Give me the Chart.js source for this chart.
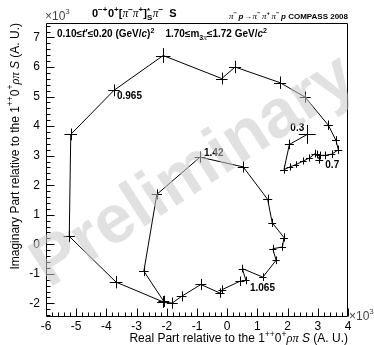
<!DOCTYPE html>
<html>
<head>
<meta charset="utf-8">
<script src="https://cdn.jsdelivr.net/npm/chart.js@4/dist/chart.umd.min.js"></script>
<style>
  html, body { margin: 0; padding: 0; background: #fff; }
  canvas { display: block; }
</style>
</head>
<body>
<canvas id="argand" width="374" height="345"></canvas>
<script>
// Argand path of the 0-+0+ [pi pi]_S pi S wave, relative to 1++0+ rho pi S (units of 10^3)
const realPart = [2.65, 2.06, 1.88, 2.08, 2.28, 2.52, 2.72, 2.91, 2.96, 3.05,
                  3.07, 3.24, 3.46, 3.68, 3.60, 3.35, 2.58, 1.75, 0.26, -0.18,
                  -2.12, -3.75, -5.18, -5.23, -3.68, -2.12, -1.82, -1.51, -0.87, -0.24,
                  -0.16, 0.42, 0.62, 0.50, 1.18, 1.62, 1.51, 1.83, 1.88, 1.49,
                  1.34, 0.53, -0.90, -2.33, -2.76, -2.10];
const imagPart = [3.72, 3.38, 2.53, 2.62, 2.70, 2.82, 2.92, 3.07, 3.04, 2.87,
                  3.01, 3.01, 3.05, 3.20, 3.52, 4.03, 4.98, 5.47, 6.00, 5.61,
                  6.39, 5.21, 3.72, 0.27, -1.28, -1.95, -1.99, -1.76, -1.36, -1.65,
                  -1.53, -1.25, -1.22, -0.82, -1.11, -0.54, -0.15, -0.09, 0.23, 0.73,
                  1.52, 2.62, 2.95, 1.69, -0.91, -1.93];
const realErr = [0.28, 0.15, 0.13, 0.11, 0.10, 0.11, 0.11, 0.12, 0.12, 0.13,
                 0.12, 0.12, 0.12, 0.13, 0.13, 0.15, 0.18, 0.20, 0.20, 0.19,
                 0.24, 0.19, 0.21, 0.19, 0.21, 0.20, 0.18, 0.16, 0.18, 0.15,
                 0.13, 0.15, 0.12, 0.12, 0.12, 0.12, 0.12, 0.12, 0.13, 0.13,
                 0.15, 0.18, 0.18, 0.17, 0.16, 0.18];
const imagErr = [0.32, 0.16, 0.14, 0.12, 0.11, 0.12, 0.12, 0.13, 0.13, 0.14,
                 0.13, 0.13, 0.13, 0.14, 0.14, 0.16, 0.19, 0.21, 0.21, 0.20,
                 0.25, 0.20, 0.20, 0.20, 0.21, 0.20, 0.19, 0.17, 0.19, 0.16,
                 0.14, 0.16, 0.13, 0.13, 0.13, 0.13, 0.13, 0.13, 0.14, 0.14,
                 0.16, 0.19, 0.19, 0.17, 0.17, 0.19];
// 3-pi mass values written next to selected points
const massLabelIndex = [0, 9, 21, 32, 42];
const massLabelText = ['0.3', '0.7', '0.965', '1.065', '1.42'];

const xTicks = [-6, -5, -4, -3, -2, -1, 0, 1, 2, 3, 4];
const yTicks = [-2, -1, 0, 1, 2, 3, 4, 5, 6, 7];
const xRange = [-6, 4];
const yRange = [-2.46, 7.49];

const SANS = '"Liberation Sans", Arial, Helvetica, sans-serif';
const SERIF = '"Liberation Serif", "Times New Roman", serif';

// ---------- rich text helpers (super/subscripts, greek letters) ----------
function segWidth(ctx, s) {
  ctx.font = s.f;
  let w = ctx.measureText(s.t).width;
  if (s.t2 !== undefined) {
    ctx.font = s.f2;
    w = Math.max(w, ctx.measureText(s.t2).width);
  }
  return w + (s.gap || 0);
}
function richWidth(ctx, segs) {
  return segs.reduce((a, s) => a + segWidth(ctx, s), 0);
}
function drawRich(ctx, segs, x, y, align) {
  const w = richWidth(ctx, segs);
  let cx = align === 'right' ? x - w : align === 'center' ? x - w / 2 : x;
  ctx.textAlign = 'left';
  ctx.textBaseline = 'alphabetic';
  for (const s of segs) {
    ctx.fillStyle = s.c || '#000';
    ctx.font = s.f;
    ctx.fillText(s.t, cx, y + (s.dy || 0));
    if (s.t2 !== undefined) {
      ctx.font = s.f2;
      ctx.fillText(s.t2, cx, y + (s.dy2 || 0));
    }
    cx += segWidth(ctx, s);
  }
}

// ---------- axis frame with inward ticks ----------
const framePlugin = {
  id: 'frame',
  beforeDatasetsDraw(chart) {
    const { ctx, chartArea: a, scales: { x, y } } = chart;
    ctx.save();
    ctx.strokeStyle = '#000';
    ctx.lineWidth = 1;
    ctx.beginPath();
    ctx.rect(Math.round(a.left) + 0.5, Math.round(a.top) + 0.5,
             Math.round(a.right - a.left) - 1, Math.round(a.bottom - a.top) - 1);
    ctx.stroke();
    ctx.beginPath();
    const bottom = Math.round(a.bottom) - 0.5;
    for (let k = xRange[0] * 5; k <= xRange[1] * 5; k++) {
      const px = Math.round(x.getPixelForValue(k / 5)) + 0.5;
      const len = k % 5 === 0 ? 8 : 4;
      ctx.moveTo(px, bottom);
      ctx.lineTo(px, bottom - len);
    }
    const left = Math.round(a.left) + 0.5;
    for (let k = Math.ceil(yRange[0] * 5); k <= Math.floor(yRange[1] * 5); k++) {
      const py = Math.round(y.getPixelForValue(k / 5)) + 0.5;
      const len = k % 5 === 0 ? 8 : 4;
      ctx.moveTo(left, py);
      ctx.lineTo(left + len, py);
    }
    ctx.stroke();
    ctx.restore();
  }
};

// ---------- error crosses and mass labels ----------
const errorPlugin = {
  id: 'errors',
  afterDatasetsDraw(chart) {
    const { ctx, scales: { x, y } } = chart;
    ctx.save();
    ctx.strokeStyle = '#000';
    ctx.lineWidth = 1;
    ctx.beginPath();
    realPart.forEach((re, i) => {
      const im = imagPart[i];
      const px = Math.round(x.getPixelForValue(re)) + 0.5;
      const py = Math.round(y.getPixelForValue(im)) + 0.5;
      ctx.moveTo(x.getPixelForValue(re - realErr[i]), py);
      ctx.lineTo(x.getPixelForValue(re + realErr[i]), py);
      ctx.moveTo(px, y.getPixelForValue(im - imagErr[i]));
      ctx.lineTo(px, y.getPixelForValue(im + imagErr[i]));
    });
    ctx.stroke();

    const offsets = [[-3, -3, 'right'], [6, 8, 'left'], [3, 8.5, 'left'],
                     [4, 11, 'left'], [4, -1.5, 'left']];
    ctx.font = 'bold 10px ' + SANS;
    ctx.fillStyle = '#000';
    ctx.textBaseline = 'alphabetic';
    massLabelIndex.forEach((idx, k) => {
      const px = x.getPixelForValue(realPart[idx]);
      const py = y.getPixelForValue(imagPart[idx]);
      const [dx, dy, al] = offsets[k];
      ctx.textAlign = al;
      ctx.fillText(massLabelText[k], px + dx, py + dy);
    });
    ctx.restore();
  }
};

// ---------- titles, axis titles, exponent markers, watermark ----------
const textPlugin = {
  id: 'texts',
  afterDraw(chart) {
    const { ctx, chartArea: a } = chart;
    ctx.save();

    // exponent markers
    const e12 = '12px ' + SANS, e8 = '8px ' + SANS;
    drawRich(ctx, [{ t: '\u00d710', f: e12, c: '#444' }, { t: '3', f: e8, dy: -6, c: '#444' }], a.left - 1, 20, 'left');
    drawRich(ctx, [{ t: '\u00d710', f: e12, c: '#444' }, { t: '3', f: e8, dy: -6, c: '#444' }], a.right + 1, 320, 'left');

    // wave title
    const b11 = 'bold 11px ' + SANS, s8 = 'bold 8px ' + SANS, pi11 = 'italic 11.5px ' + SERIF;
    drawRich(ctx, [
      { t: '0', f: b11 }, { t: '\u2212+', f: s8, dy: -5, gap: 0.5 },
      { t: '0', f: b11 }, { t: '+', f: s8, dy: -5 },
      { t: '[', f: b11 }, { t: '\u03c0', f: pi11 }, { t: '\u2212', f: s8, dy: -5 },
      { t: '\u03c0', f: pi11 }, { t: '+', f: s8, dy: -5 },
      { t: ']', f: b11 }, { t: '*', f: s8, dy: -4, t2: 'S', f2: s8, dy2: 3, gap: 0.5 },
      { t: '\u03c0', f: pi11 }, { t: '\u2212', f: s8, dy: -5 },
      { t: '  S', f: b11 }
    ], 92, 16.5, 'left');

    // reaction label
    const b8 = 'bold 8px ' + SANS, s6 = 'bold 6px ' + SANS, pi8 = 'italic 9px ' + SERIF, p8 = 'bold italic 8px ' + SANS;
    drawRich(ctx, [
      { t: '\u03c0', f: pi8 }, { t: '\u2212', f: s6, dy: -3.5, gap: 1.5 },
      { t: 'p', f: p8, gap: 0.5 }, { t: '\u2192', f: b8, gap: 0.5 },
      { t: '\u03c0', f: pi8 }, { t: '\u2212', f: s6, dy: -3.5, gap: 1.5 },
      { t: '\u03c0', f: pi8 }, { t: '+', f: s6, dy: -3.5, gap: 1.5 },
      { t: '\u03c0', f: pi8 }, { t: '\u2212', f: s6, dy: -3.5, gap: 1.5 },
      { t: 'p', f: p8 }, { t: ' COMPASS 2008', f: b8 }
    ], a.right, 18.5, 'right');

    // kinematic range
    const b10 = 'bold 10px ' + SANS, i10 = 'bold italic 10px ' + SANS, s7 = 'bold 7px ' + SANS, pi7 = 'italic 7.5px ' + SERIF;
    drawRich(ctx, [
      { t: '0.10\u2264', f: b10 }, { t: 't', f: i10 }, { t: '\u2032\u22640.20 (GeV/', f: b10 },
      { t: 'c', f: i10 }, { t: ')', f: b10 }, { t: '2', f: s7, dy: -4.5 },
      { t: '    1.70\u2264m', f: b10 }, { t: '3', f: s7, dy: 2.5 }, { t: '\u03c0', f: pi7, dy: 2.5 },
      { t: '\u22641.72 GeV/', f: b10 }, { t: 'c', f: i10 }, { t: '2', f: s7, dy: -4.5 }
    ], a.left + 11, 37, 'left');

    // axis titles
    const r12 = '12px ' + SANS, sup9 = '8.5px ' + SANS, g12 = 'italic 12.5px ' + SERIF, i12 = 'italic 12px ' + SANS;
    const tail = [
      { t: '1', f: r12 }, { t: '++', f: sup9, dy: -5.5 }, { t: '0', f: r12 }, { t: '+', f: sup9, dy: -5.5 },
      { t: '\u03c1\u03c0', f: g12 }, { t: ' ', f: r12 }, { t: 'S', f: i12 }, { t: ' (A. U.)', f: r12 }
    ];
    drawRich(ctx, [{ t: 'Real Part relative to the ', f: r12 }, ...tail], a.right, 342, 'right');
    ctx.save();
    ctx.translate(18.5, a.top);
    ctx.rotate(-Math.PI / 2);
    drawRich(ctx, [{ t: 'Imaginary Part relative to the ', f: r12 }, ...tail], 0, 0, 'right');
    ctx.restore();

    // watermark over the plot
    ctx.save();
    ctx.translate(194, 172);
    ctx.rotate(-33 * Math.PI / 180);
    ctx.font = 'bold 68px ' + SANS;
    ctx.fillStyle = 'rgba(200,200,200,0.55)';
    ctx.textAlign = 'center';
    ctx.textBaseline = 'middle';
    ctx.fillText('Preliminary', 0, 0);
    ctx.restore();

    ctx.restore();
  }
};

new Chart(document.getElementById('argand'), {
  type: 'scatter',
  data: {
    datasets: [{
      data: realPart.map((re, i) => ({ x: re, y: imagPart[i] })),
      showLine: true,
      borderColor: '#000',
      borderWidth: 1,
      pointRadius: 0,
      pointHoverRadius: 0,
      tension: 0
    }]
  },
  options: {
    responsive: false,
    devicePixelRatio: 1,
    animation: false,
    events: [],
    layout: { padding: { left: 0, right: 26, top: 23, bottom: 0 } },
    plugins: { legend: { display: false }, tooltip: { enabled: false } },
    scales: {
      x: {
        type: 'linear', min: xRange[0], max: xRange[1],
        afterBuildTicks: s => { s.ticks = xTicks.map(v => ({ value: v })); },
        afterFit: s => { s.height = 28; },
        grid: { display: false, drawTicks: false },
        border: { display: false },
        ticks: { color: '#000', font: { family: SANS, size: 12 }, padding: 2, maxRotation: 0, autoSkip: false }
      },
      y: {
        type: 'linear', min: yRange[0], max: yRange[1],
        afterBuildTicks: s => { s.ticks = yTicks.map(v => ({ value: v })); },
        afterFit: s => { s.width = 46; },
        grid: { display: false, drawTicks: false },
        border: { display: false },
        ticks: { color: '#000', font: { family: SANS, size: 12 }, padding: 6, autoSkip: false }
      }
    }
  },
  plugins: [framePlugin, errorPlugin, textPlugin]
});
</script>
</body>
</html>
